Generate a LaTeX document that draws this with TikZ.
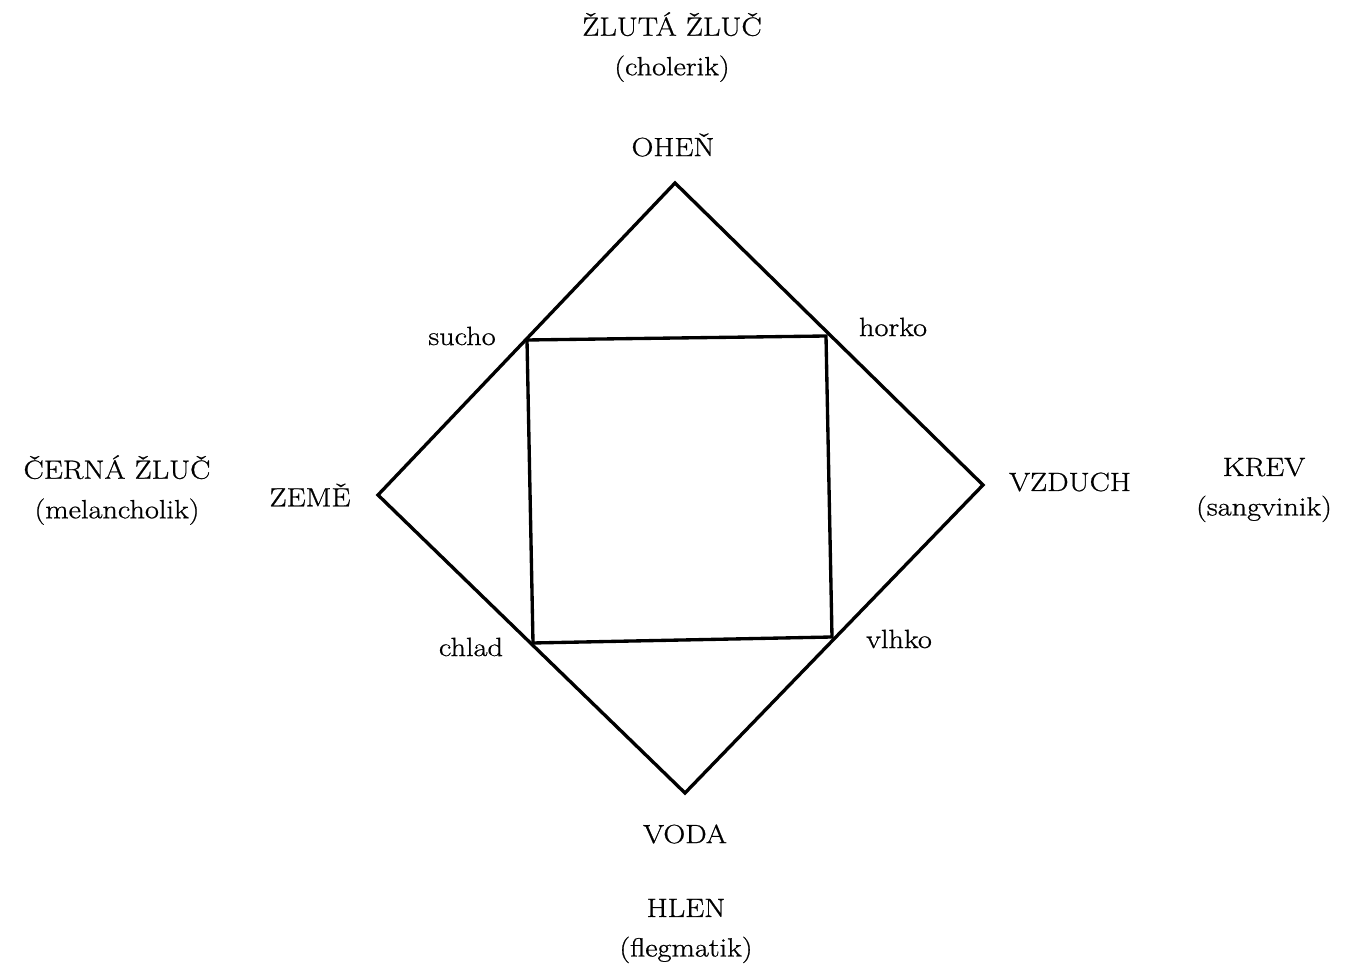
\documentclass[tikz,border=0pt]{standalone}
\usepackage{fontspec}
\setmainfont{Latin Modern Roman}[FakeStretch=1.15, FakeBold=0.8]
\begin{document}
\begin{tikzpicture}[line width=1.9pt, every node/.style={font=\fontsize{15}{22.5}\selectfont, align=center}]
                    \useasboundingbox (0,0) rectangle (27.36,19.34);
                    % Elements (diamond vertices)
                    \coordinate (ohen) at (13.5,15.68);
                    \coordinate (vzduch) at (19.66,9.64);
                    \coordinate (voda) at (13.7,3.48);
                    \coordinate (zeme) at (7.56,9.44);
                    
                    % Qualities (inner square corners)
                    \coordinate (sucho) at (10.54,12.54);
                    \coordinate (horko) at (16.52,12.62);
                    \coordinate (vlhko) at (16.64,6.6);
                    \coordinate (chlad) at (10.66,6.48);
                    
                    \draw[line join=miter] (ohen) -- (vzduch) -- (voda) -- (zeme) -- cycle;
                    \draw[line join=miter] (sucho) -- (horko) -- (vlhko) -- (chlad) -- cycle;
                    
                    % Element labels
                    \node (l-ohen) at (13.46,16.44) {OHEŇ};
                    \node (l-vzduch) at (21.4,9.7) {VZDUCH};
                    \node (l-voda) at (13.7,2.66) {VODA};
                    \node (l-zeme) at (6.2,9.44) {ZEMĚ};
                    
                    % Quality labels
                    \node (l-sucho) at (9.24,12.62) {sucho};
                    \node (l-horko) at (17.86,12.8) {horko};
                    \node (l-vlhko) at (17.98,6.56) {vlhko};
                    \node (l-chlad) at (9.42,6.4) {chlad};
                    
                    % Humours and temperaments
                    \node (cholerik) at (13.44,18.4) {ŽLUTÁ ŽLUČ\\(cholerik)};
                    \node (sangvinik) at (25.28,9.54) {KREV\\(sangvinik)};
                    \node (flegmatik) at (13.72,0.72) {HLEN\\(flegmatik)};
                    \node (melancholik) at (2.34,9.54) {ČERNÁ ŽLUČ\\(melancholik)};
                \end{tikzpicture}
\end{document}
